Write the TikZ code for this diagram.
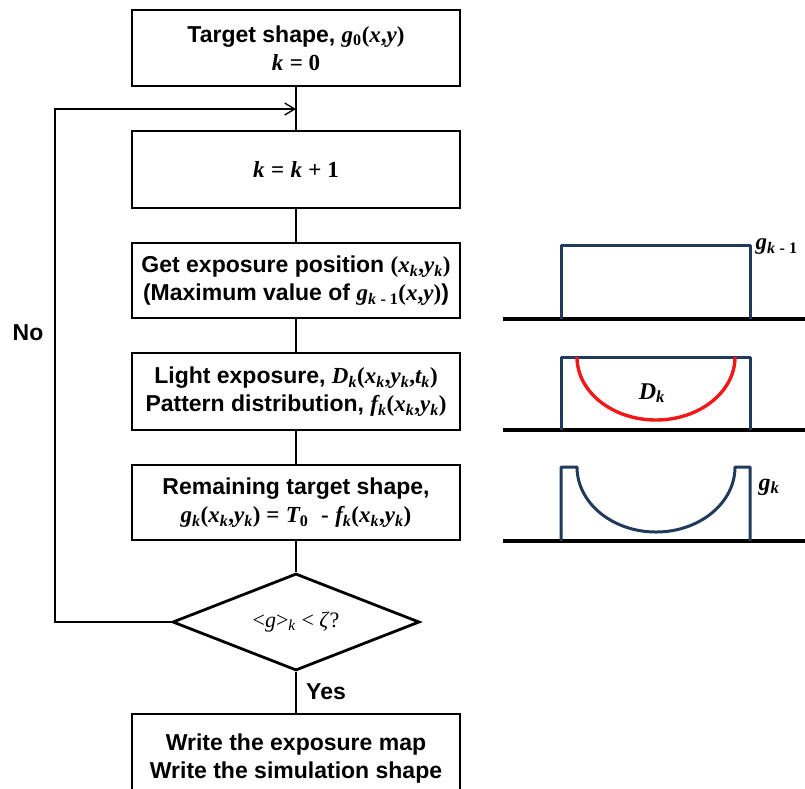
\documentclass[tikz,border=0pt]{standalone}
\usepackage{fontspec}
\setmainfont{Liberation Sans}
\newfontfamily\timesf{Liberation Serif}
\usetikzlibrary{shapes.geometric,arrows.meta}
\definecolor{profblue}{HTML}{203A5C}
\definecolor{dosered}{HTML}{F01818}
\newcommand{\vr}[1]{{\timesf\bfseries\itshape #1}}
\newcommand{\vs}[1]{\textsubscript{\vr{#1}}}
\newcommand{\sr}[1]{{\timesf\bfseries #1}}
\newcommand{\ns}[1]{\textsubscript{\sr{#1}}}

\begin{document}
\begin{tikzpicture}[
    x=1pt, y=-1pt,
    >={Straight Barb[length=10pt,width=12pt]},
    line width=1.4pt,
    stepbox/.style={rectangle, draw, line width=2.8pt, minimum width=328pt, inner sep=0pt, align=center, font=\fontsize{23}{28}\selectfont\bfseries},
    decision/.style={diamond, aspect=2.5, draw, line width=2.8pt, minimum width=247pt, minimum height=97pt, inner sep=0pt, font=\timesf\fontsize{22}{24}\selectfont},
    tag/.style={font=\fontsize{23}{26}\selectfont\bfseries},
    groundline/.style={line width=4pt},
    profile/.style={draw=profblue, line width=3pt, line join=round},
    dose/.style={draw=dosered, line width=3.4pt}
]
  \useasboundingbox (0,0) rectangle (805,788);

  % nodes
  \node[stepbox, minimum height=76pt] (init) at (296,48)
    {Target shape, \vr{g}\ns{0}\sr{(}\vr{x}\sr{,}\vr{y}\sr{)}\\ \vr{k} \sr{= 0}};
  \node[stepbox, minimum height=77pt] (incr) at (296,169.5)
    {\vr{k} \sr{=} \vr{k} \sr{+ 1}};
  \node[stepbox, minimum height=75pt] (getpos) at (296,280.5)
    {Get exposure position \sr{(}\vr{x}\vs{k}\sr{,}\vr{y}\vs{k}\sr{)}\\
     (Maximum value of \vr{g}\textsubscript{\vr{k} \sr{- 1}}\sr{(}\vr{x}\sr{,}\vr{y}\sr{)})};
  \node[stepbox, minimum height=77pt] (expose) at (296,391.5)
    {Light exposure, \vr{D}\vs{k}\sr{(}\vr{x}\vs{k}\sr{,}\vr{y}\vs{k}\sr{,}\vr{t}\vs{k}\sr{)}\\
     Pattern distribution, \vr{f}\vs{k}\sr{(}\vr{x}\vs{k}\sr{,}\vr{y}\vs{k}\sr{)}};
  \node[stepbox, minimum height=75pt] (remain) at (296,502.5)
    {Remaining target shape,\\
     \vr{g}\vs{k}\sr{(}\vr{x}\vs{k}\sr{,}\vr{y}\vs{k}\sr{) =} \vr{T}\ns{0}\ \ \sr{-} \vr{f}\vs{k}\sr{(}\vr{x}\vs{k}\sr{,}\vr{y}\vs{k}\sr{)}};
  \node[decision] (check) at (296,622)
    {<\textit{g}>\textsubscript{\textit{k}} < \textit{ζ}?};
  \node[stepbox, minimum height=90pt] (output) at (296,759)
    {Write the exposure map\\ Write the simulation shape};

  \node[tag] (no) at (28,333) {No};
  \node[tag] (yes) at (326,692) {Yes};
  \coordinate (merge) at (296,109);

  % edges
  \draw (init) -- (incr);
  \draw (incr) -- (getpos);
  \draw (getpos) -- (expose);
  \draw (expose) -- (remain);
  \draw (remain) -- (check);
  \draw (check) -- (output);
  \draw[->] (check.west) -- ++(-116,0) |- (merge);

  % profiles
  \draw[groundline] (503,319) -- (805,319);
  \draw[groundline] (503,430) -- (805,430);
  \draw[groundline] (503,541) -- (805,541);

  \draw[profile] (561,319) -- (561,245) -- (750,245) -- (750,319);
  \draw[profile] (561,430) -- (561,357) -- (750,357) -- (750,430);
  \draw[dose] (577,357) arc[start angle=180, end angle=0, x radius=79, y radius=63];
  \draw[profile] (561,541) -- (561,467) -- (577,467)
    arc[start angle=180, end angle=0, x radius=79, y radius=65] -- (750,467) -- (750,541);

  \node[anchor=west, inner sep=0pt, font=\fontsize{23}{24}\selectfont] (gprev) at (755,247) {\vr{g}\textsubscript{\vr{k} \sr{- 1}}};
  \node[font=\fontsize{24}{26}\selectfont] (dk) at (652,393) {\vr{D}\vs{k}};
  \node[anchor=west, inner sep=0pt, font=\fontsize{24}{26}\selectfont] (gk) at (758,487) {\vr{g}\vs{k}};
\end{tikzpicture}
\end{document}
